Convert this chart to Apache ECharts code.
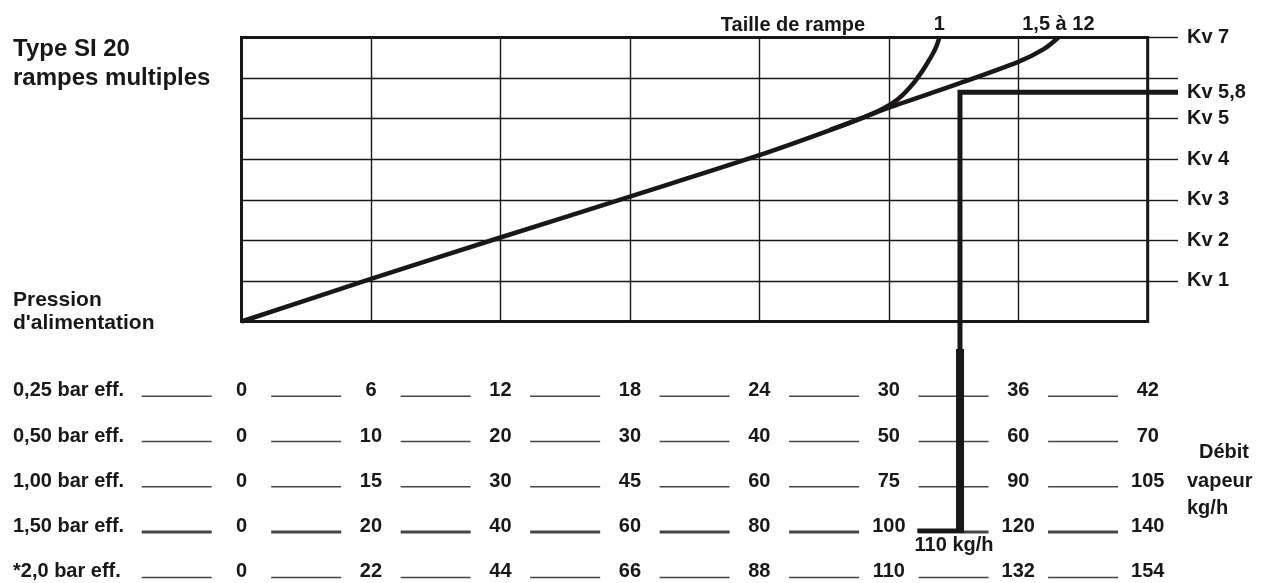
<!DOCTYPE html>
<html>
<head>
<meta charset="utf-8">
<title>Type SI 20 rampes multiples</title>
<script src="https://cdn.jsdelivr.net/npm/echarts@6.0.0/dist/echarts.min.js"></script>
<style>
  html, body { margin: 0; padding: 0; background: #fff; }
  #chart { width: 1272px; height: 583px; }
</style>
</head>
<body>
<div id="chart"></div>
<script>
// Kv scale on the right of the box
var kvLabelValues = [1, 2, 3, 4, 5, 7]

// ramp curves, x in column units (0..7), y in Kv
var rampMultiX = [0, 1, 2, 3, 4, 4.6, 5, 5.5, 6, 6.2, 6.31]
var rampMultiKv = [0, 1.05, 2.07, 3.08, 4.1, 4.78, 5.27, 5.82, 6.4, 6.72, 7]
var rampOneX = [4.55, 4.78, 4.95, 5.07, 5.16, 5.23, 5.29, 5.34, 5.37, 5.39]
var rampOneKv = [4.73, 5.0, 5.24, 5.48, 5.76, 6.04, 6.33, 6.6, 6.8, 7]
var rampMultiName = '1,5 à 12'
var rampOneName = '1'

// supply pressure rows and steam flow (kg/h) under each column
var pressureRows = ['0,25 bar eff.', '0,50 bar eff.', '1,00 bar eff.', '1,50 bar eff.', '*2,0 bar eff.']
var flow025 = [0, 6, 12, 18, 24, 30, 36, 42]
var flow050 = [0, 10, 20, 30, 40, 50, 60, 70]
var flow100 = [0, 15, 30, 45, 60, 75, 90, 105]
var flow150 = [0, 20, 40, 60, 80, 100, 120, 140]
var flow200 = [0, 22, 44, 66, 88, 110, 132, 154]
var flowRows = [flow025, flow050, flow100, flow150, flow200]

// reading example: Kv 5,8 at 1,50 bar -> 110 kg/h
var exampleKv = 5.65
var exampleKvLabel = 'Kv 5,8'
var exampleCol = 5.55
var exampleRow = 3
var exampleLabel = '110 kg/h'

var ink = '#1a1718'
var fontFamily = '"Liberation Sans", Arial, Helvetica, sans-serif'

function zip (xs, ys) {
  return xs.map(function (x, i) { return [x, ys[i]] })
}

// dashes between the flow values, one row each
var dashData = []
var numberData = []
flowRows.forEach(function (row, r) {
  row.forEach(function (v, c) {
    dashData.push({
      value: [c - 0.5, r + 0.12],
      symbolSize: [70, r === exampleRow ? 3 : 1.5]
    })
    numberData.push({ value: [c, r], name: String(v) })
  })
})

function txt (text, x, y, size, align) {
  return {
    type: 'text',
    x: x,
    y: y,
    style: {
      text: text,
      fill: ink,
      font: 'bold ' + size + 'px ' + fontFamily,
      align: align || 'left',
      textAlign: align || 'left',
      verticalAlign: 'middle',
      textVerticalAlign: 'middle'
    }
  }
}

var labelFont = {
  color: ink, fontSize: 20, fontWeight: 'bold', fontFamily: fontFamily,
  textBorderWidth: 0, opacity: 1
}

var chart = echarts.init(document.getElementById('chart'))

var options = {
  animation: false,
  backgroundColor: '#fff',
  textStyle: { fontFamily: fontFamily },
  grid: [
    { left: 241.5, right: 124.3, top: 37.5, bottom: 261.5, show: true, borderColor: ink, borderWidth: 3 },
    { left: 112, right: 59.5, top: 345.4, bottom: 2 },
    // strip right of the box for the Kv ticks and labels
    { left: 1147.7, right: 94, top: 37.5, bottom: 302.07 }
  ],
  xAxis: [
    {
      gridIndex: 0, type: 'value', min: 0, max: 7, interval: 1,
      axisLine: { show: false }, axisTick: { show: false }, axisLabel: { show: false },
      splitLine: { show: true, lineStyle: { color: ink, width: 1.4 } }
    },
    { gridIndex: 1, type: 'value', min: -1, max: 7.5, show: false },
    { gridIndex: 2, type: 'value', min: 0, max: 1, show: false }
  ],
  yAxis: [
    {
      gridIndex: 0, type: 'value', min: 0, max: 7, interval: 1,
      axisLine: { show: false }, axisTick: { show: false }, axisLabel: { show: false },
      splitLine: { show: true, lineStyle: { color: ink, width: 1.4 } }
    },
    {
      gridIndex: 1, type: 'value', inverse: true, min: -1, max: 4.2,
      axisLine: { show: false }, axisTick: { show: false }, splitLine: { show: false },
      axisLabel: Object.assign({
        customValues: [0, 1, 2, 3, 4],
        formatter: function (v) { return pressureRows[v] || '' },
        align: 'left', margin: 99
      }, labelFont)
    },
    {
      gridIndex: 2, type: 'value', position: 'right', min: 1, max: 7, interval: 1,
      axisLine: { show: false }, axisTick: { show: false },
      splitLine: { show: true, lineStyle: { color: ink, width: 1.4 } },
      axisLabel: Object.assign({
        customValues: kvLabelValues.concat([exampleKv]),
        formatter: function (v) { return v === exampleKv ? exampleKvLabel : 'Kv ' + v },
        margin: 9
      }, labelFont)
    }
  ],
  graphic: [
    txt('Type SI 20', 13, 49, 24),
    txt('rampes multiples', 13, 78, 24),
    txt('Pression', 13, 300, 21),
    txt("d'alimentation", 13, 323, 21),
    txt('Taille de rampe', 865, 25, 20, 'right'),
    txt('Débit', 1199, 452, 20),
    txt('vapeur', 1187, 481, 20),
    txt('kg/h', 1187, 508, 20)
  ],
  series: [
    {
      type: 'line', xAxisIndex: 0, yAxisIndex: 0, symbol: 'none', smooth: 0.3,
      lineStyle: { color: ink, width: 4.5 },
      data: zip(rampMultiX, rampMultiKv)
    },
    {
      type: 'line', xAxisIndex: 0, yAxisIndex: 0, symbol: 'none', smooth: 0.5,
      lineStyle: { color: ink, width: 4.5 },
      data: zip(rampOneX, rampOneKv)
    },
    {
      // ramp size labels above the curve ends
      type: 'scatter', xAxisIndex: 0, yAxisIndex: 0, symbolSize: 1, clip: false,
      itemStyle: { color: 'rgba(0,0,0,0)' },
      label: Object.assign({ show: true, position: 'top', distance: 3, formatter: '{b}' }, labelFont),
      data: [
        { value: [rampOneX[rampOneX.length - 1], rampOneKv[rampOneKv.length - 1]], name: rampOneName },
        { value: [rampMultiX[rampMultiX.length - 1], rampMultiKv[rampMultiKv.length - 1]], name: rampMultiName }
      ]
    },
    {
      // example path, upper part
      type: 'line', xAxisIndex: 0, yAxisIndex: 0, symbol: 'none', clip: false, z: 4,
      lineStyle: { color: ink, width: 5, join: 'miter' },
      data: [[7, exampleKv], [exampleCol, exampleKv], [exampleCol, -0.68]]
    },
    {
      type: 'line', xAxisIndex: 2, yAxisIndex: 2, symbol: 'none', clip: false, z: 4,
      lineStyle: { color: ink, width: 5 },
      data: [[0, exampleKv], [1, exampleKv]]
    },
    {
      type: 'line', xAxisIndex: 1, yAxisIndex: 1, symbol: 'none', clip: false, z: 4,
      lineStyle: { color: ink, width: 8 },
      data: [[exampleCol, -0.92], [exampleCol, exampleRow + 0.14]]
    },
    {
      type: 'line', xAxisIndex: 1, yAxisIndex: 1, symbol: 'none', clip: false, z: 4,
      lineStyle: { color: ink, width: 4.5 },
      data: [[5.22, exampleRow + 0.09], [exampleCol + 0.03, exampleRow + 0.09]]
    },
    {
      type: 'scatter', xAxisIndex: 1, yAxisIndex: 1, symbolSize: 1, clip: false, z: 5,
      itemStyle: { color: 'rgba(0,0,0,0)' },
      label: Object.assign({ show: true, position: 'bottom', distance: 4, offset: [-6, 0], formatter: '{b}' }, labelFont),
      data: [{ value: [exampleCol, exampleRow + 0.09], name: exampleLabel }]
    },
    {
      // dashes
      type: 'scatter', xAxisIndex: 1, yAxisIndex: 1, symbol: 'rect', clip: false, z: 2,
      itemStyle: { color: ink },
      data: dashData
    },
    {
      // flow values
      type: 'scatter', xAxisIndex: 1, yAxisIndex: 1, symbolSize: 1, clip: false, z: 3,
      itemStyle: { color: 'rgba(0,0,0,0)' },
      label: Object.assign({ show: true, position: 'inside', formatter: '{b}' }, labelFont),
      data: numberData
    }
  ]
}

chart.setOption(options)
</script>
</body>
</html>
